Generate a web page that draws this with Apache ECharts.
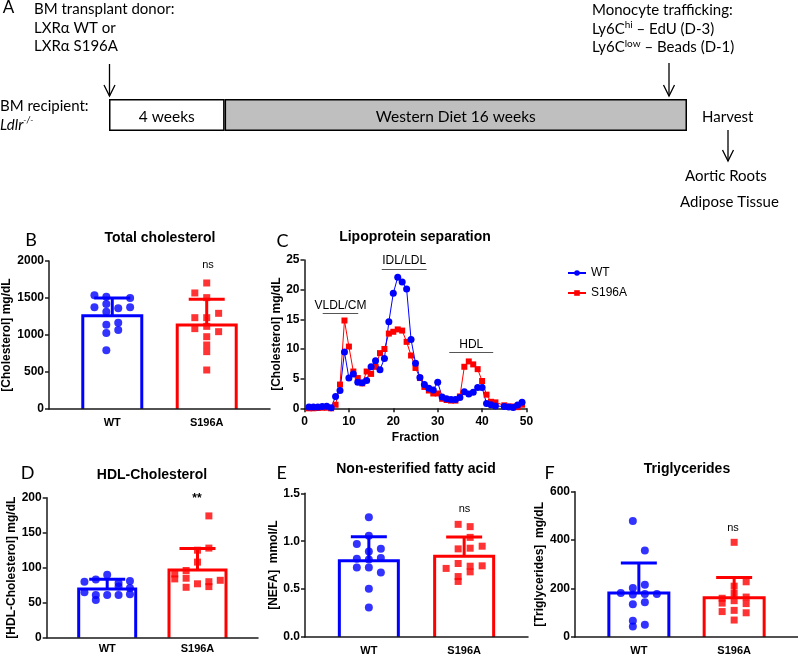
<!DOCTYPE html>
<html><head><meta charset="utf-8">
<script src="https://cdn.jsdelivr.net/npm/echarts@6/dist/echarts.min.js"></script>
<style>html,body{margin:0;padding:0;background:#fff}#c{width:798px;height:656px}</style>
</head><body><div id="c"></div>
<script>
// ---------------- data ----------------
const groups = ['WT', 'S196A'];
const timelinePhases = ['4 weeks', 'Western Diet 16 weeks'];
const timelineWeeks = [4, 16];

// B: total cholesterol (mg/dL)
const tcMean = [1261, 1135];
const tcSD = [239, 347];
const tcWT = [1536, 1518, 1500, 1374, 1419, 1360, 1374, 1315, 1140, 1167, 1068, 1027, 793];
const tcWTcol = [-1.5, -0.5, 1.5, -1.5, -0.5, 0.5, 1.5, -0.5, -0.5, 0.5, 0.5, -0.5, -0.5];
const tcS196A = [1703, 1568, 1505, 1293, 1234, 1234, 1117, 1086, 1045, 977, 865, 775, 527];
const tcS196Acol = [0, -1, 0, 1, -1, 0, 0, -1, 1, 0, 0, 0, 0];

// C: lipoprotein separation
const fractions = [1,2,3,4,5,6,7,8,9,10,11,12,13,14,15,16,17,18,19,20,21,22,23,24,25,26,27,28,29,30,31,32,33,34,35,36,37,38,39,40,41,42,43,45,46,47,48,49];
const lipoWT = [0.2,0.2,0.2,0.3,0.35,0.1,2.0,3.0,9.5,5.1,5.8,4.4,4.3,4.7,7.0,8.0,6.5,8.4,14.6,19.4,22.1,21.3,20.1,11.6,7.6,5.2,4.0,3.4,3.1,4.4,1.9,1.6,1.5,1.5,1.8,2.8,2.4,2.7,3.5,3.5,0.8,0.6,0.4,0.3,0.2,0.15,0.55,1.0];
const lipoS196A = [0,0,0.05,0.1,0.1,0,0.6,4.0,14.8,10.4,6.2,5.1,4.2,6.2,5.8,7.0,9.3,10.0,12.6,12.9,13.3,13.1,11.2,8.9,6.8,5.1,3.6,3.0,2.5,2.5,1.6,1.4,1.3,1.3,2.0,7.0,7.9,7.4,6.6,4.6,2.3,1.1,1.0,0.5,0.3,0.3,0.2,0.6];
const lipoLabels = ['VLDL/CM', 'IDL/LDL', 'HDL'];
const lipoFrom = [4.1, 17.4, 32.6];
const lipoTo = [12.1, 27.5, 42.5];
const lipoLevel = [16.0, 23.5, 9.4];

// D: HDL-cholesterol (mg/dL)
const hdlMean = [69.6, 96.7];
const hdlSD = [13.8, 30.9];
const hdlWT = [80, 83, 90, 78, 81, 65, 61, 61, 61, 62, 54, 73, 71];
const hdlWTcol = [-2, -1, 0, 1, 2, -2, -1, 0, 1, 2, -1, 1, 2];
const hdlS196A = [174, 128, 125, 108, 96, 91, 84, 85, 72, 77, 80, 73, 82];
const hdlS196Acol = [1, 1, 0, 0, -1, -2, -2, -1, -1, 0, 1, 1, 2];

// E: NEFA (mmol/L)
const nefaMean = [0.795, 0.842];
const nefaSD = [0.251, 0.201];
const nefaWT = [1.25, 1.056, 0.971, 0.92, 0.893, 0.818, 0.825, 0.81, 0.726, 0.726, 0.672, 0.504, 0.307];
const nefaWTcol = [0, 0, -1, 1, 0, -1, 1, 0, -1, 0, 1, 0, 0];
const nefaS196A = [1.176, 1.152, 1.04, 0.92, 0.927, 0.948, 0.716, 0.767, 0.739, 0.743, 0.631, 0.58, 0.68];
const nefaS196Acol = [-0.5, 0.5, 0.5, -0.5, 0.5, 1.5, -1.5, -0.5, 0.5, 1.5, -0.5, -0.5, 0.5];

// F: triglycerides (mg/dL)
const tgMean = [182, 162];
const tgSD = [124, 84];
const tgWT = [479, 357, 202, 216, 182, 175, 178, 178, 135, 144, 67, 43, 51];
const tgWTcol = [-0.5, 0.5, -0.5, 0.5, -1.5, -0.5, 0.5, 1.5, -0.5, 0.5, -0.5, -0.5, 0.5];
const tgS196A = [160, 140, 105, 391, 210, 180, 150, 110, 70, 228, 165, 138, 100];
const tgS196Acol = [-1, -1, -1, 0, 0, 0, 0, 0, 0, 1, 1, 1, 1];

const sigLabels = ['ns', 'ns', '**', 'ns', 'ns'];

// ---------------- chart ----------------
const colors = ['#0000ff', '#ff0000'];
const AX = '#1a1a1a';
const FONT = "'Liberation Sans', Arial, sans-serif";
const DFONT = "Lato, 'Noto Sans', sans-serif";
const chart = echarts.init(document.getElementById('c'), null, {renderer: 'canvas'});

const grids = [
  {left: 109, top: 99, width: 578, height: 32},
  {left: 49, top: 261, width: 221, height: 148},
  {left: 304.5, top: 260, width: 222, height: 148.3},
  {left: 46.7, top: 497.7, width: 211.3, height: 140},
  {left: 305, top: 493.3, width: 223, height: 146.7},
  {left: 575, top: 491.7, width: 223, height: 148.3}
];

const xAxes = [], yAxes = [], series = [];
// timeline
const totalWeeks = timelineWeeks.reduce((a, b) => a + b, 0);
xAxes.push({type: 'value', gridIndex: 0, min: 0, max: totalWeeks, show: false});
yAxes.push({type: 'category', gridIndex: 0, data: ['t'], show: false});
timelinePhases.forEach((p, i) => {
  series.push({
    type: 'bar', xAxisIndex: 0, yAxisIndex: 0, stack: 'tl', barWidth: 32, silent: true,
    data: [timelineWeeks[i]],
    itemStyle: {color: i === 0 ? '#ffffff' : '#bfbfbf', borderColor: '#000', borderWidth: 1.5},
    label: {show: true, position: 'inside', formatter: p, color: '#000', fontFamily: DFONT, fontSize: 15.5, offset: [0, 2]}
  });
});

function yAxisCfg(gi, max, interval, name, nameGap, fmt) {
  return {
    type: 'value', gridIndex: gi, min: 0, max: max, interval: interval,
    axisLine: {show: true, onZero: false, lineStyle: {color: AX, width: 1.5}},
    axisTick: {show: true, length: 4, lineStyle: {color: AX, width: 1.5}},
    splitLine: {show: false},
    axisLabel: {color: '#000', fontWeight: 'bold', fontSize: 12, fontFamily: FONT, margin: 5, formatter: fmt || (v => String(v))},
    name: name, nameLocation: 'middle', nameGap: nameGap,
    nameTextStyle: {color: '#000', fontWeight: 'bold', fontSize: 12, fontFamily: FONT}
  };
}
function xCatCfg(gi, margin) {
  return {
    type: 'value', gridIndex: gi, min: -0.67, max: 1.67, z: 5,
    axisLine: {show: true, onZero: false, lineStyle: {color: AX, width: 1.5}},
    axisTick: {show: false}, splitLine: {show: false},
    axisLabel: {customValues: [0, 1], formatter: v => groups[Math.round(v)], color: '#000', fontWeight: 'bold', fontSize: 11, fontFamily: FONT, margin: margin}
  };
}

const step = 0.126;
function barPanel(gi, mean, sd, wt, wtCol, mut, mutCol, hw) {
  series.push({
    type: 'custom', xAxisIndex: gi, yAxisIndex: gi, silent: true,
    data: mean.map((m, i) => [i, m, sd[i]]),
    renderItem: (params, api) => {
      const x = api.value(0), m = api.value(1), s = api.value(2);
      const pb = api.coord([x, 0]), p0 = api.coord([x, m]), p1 = api.coord([x, m + s]);
      const c = colors[params.dataIndex];
      return {type: 'group', children: [
        {type: 'polyline', shape: {points: [[pb[0] - hw, pb[1]], [pb[0] - hw, p0[1]], [pb[0] + hw, p0[1]], [pb[0] + hw, pb[1]]]},
          style: {stroke: c, lineWidth: 3, fill: null, lineJoin: 'miter'}},
        {type: 'line', shape: {x1: p0[0], y1: p0[1], x2: p1[0], y2: p1[1]}, style: {stroke: c, lineWidth: 3}},
        {type: 'line', shape: {x1: p1[0] - 18, y1: p1[1], x2: p1[0] + 18, y2: p1[1]}, style: {stroke: c, lineWidth: 3}}
      ]};
    }
  });
  series.push({
    type: 'scatter', xAxisIndex: gi, yAxisIndex: gi, silent: true, symbol: 'circle', symbolSize: 8,
    itemStyle: {color: colors[0]}, data: wt.map((v, k) => [0 + wtCol[k] * step, v])
  });
  series.push({
    type: 'scatter', xAxisIndex: gi, yAxisIndex: gi, silent: true, symbol: 'rect', symbolSize: 7,
    itemStyle: {color: colors[1]}, data: mut.map((v, k) => [1 + mutCol[k] * step, v])
  });
}

// B (grid 1)
xAxes.push(xCatCfg(1, 8));
yAxes.push(yAxisCfg(1, 2000, 500, '[Cholesterol] mg/dL', 36));
barPanel(1, tcMean, tcSD, tcWT, tcWTcol, tcS196A, tcS196Acol, 29.5);

// C (grid 2)
xAxes.push({
  type: 'value', gridIndex: 2, min: 0, max: 50, interval: 10,
  axisLine: {show: true, onZero: false, lineStyle: {color: AX, width: 1.5}},
  axisTick: {show: true, length: 4, lineStyle: {color: AX, width: 1.5}},
  splitLine: {show: false},
  axisLabel: {color: '#000', fontWeight: 'bold', fontSize: 12, fontFamily: FONT, margin: 7},
  name: 'Fraction', nameLocation: 'middle', nameGap: 23,
  nameTextStyle: {color: '#000', fontWeight: 'bold', fontSize: 12, fontFamily: FONT}
});
yAxes.push(yAxisCfg(2, 25, 5, '[Cholesterol] mg/dL', 22));
series.push({
  name: 'S196A', type: 'line', xAxisIndex: 2, yAxisIndex: 2, silent: true,
  symbol: 'rect', symbolSize: 6, itemStyle: {color: colors[1]}, lineStyle: {color: colors[1], width: 1},
  data: fractions.map((f, i) => [f, lipoS196A[i]]),
  markLine: {
    silent: true, symbol: ['none', 'none'], animation: false,
    lineStyle: {color: '#555', width: 1, type: 'solid'},
    label: {show: true, position: 'insideMiddleTop', distance: 2, color: '#000', fontSize: 12, fontFamily: FONT, formatter: p => p.name},
    data: lipoLabels.map((n, i) => [{name: n, coord: [lipoFrom[i], lipoLevel[i]]}, {coord: [lipoTo[i], lipoLevel[i]]}])
  }
});
series.push({
  name: 'WT', type: 'line', xAxisIndex: 2, yAxisIndex: 2, silent: true,
  symbol: 'circle', symbolSize: 7, itemStyle: {color: colors[0]}, lineStyle: {color: colors[0], width: 1},
  data: fractions.map((f, i) => [f, lipoWT[i]])
});

// D (grid 3)
xAxes.push(xCatCfg(3, 6));
yAxes.push(yAxisCfg(3, 200, 50, '[HDL-Cholesterol] mg/dL', 28));
barPanel(3, hdlMean, hdlSD, hdlWT, hdlWTcol, hdlS196A, hdlS196Acol, 28.5);

// E (grid 4)
xAxes.push(xCatCfg(4, 8));
yAxes.push(yAxisCfg(4, 1.5, 0.5, '[NEFA]  mmol/L', 24, v => v.toFixed(1)));
barPanel(4, nefaMean, nefaSD, nefaWT, nefaWTcol, nefaS196A, nefaS196Acol, 29.5);

// F (grid 5)
xAxes.push(xCatCfg(5, 8));
yAxes.push(yAxisCfg(5, 600, 200, '[Triglycerides]  mg/dL', 24));
barPanel(5, tgMean, tgSD, tgWT, tgWTcol, tgS196A, tgS196Acol, 30);

// ---------------- annotations ----------------
const g = [];
function txt(x, y, text, o) {
  o = o || {};
  g.push({type: 'text', x: x, y: y, silent: true, z: 10, style: Object.assign({
    text: text, fill: '#000', font: (o.weight || 'normal') + ' ' + (o.size || 15) + 'px ' + (o.family || DFONT),
    textAlign: o.align || 'left', textVerticalAlign: 'middle'
  }, o.rich ? {rich: o.rich} : {})});
}
function arrow(x, y1, y2) {
  g.push({type: 'line', silent: true, shape: {x1: x, y1: y1, x2: x, y2: y2}, style: {stroke: '#000', lineWidth: 1.3}});
  g.push({type: 'polyline', silent: true, shape: {points: [[x - 5.5, y2 - 11], [x, y2], [x + 5.5, y2 - 11]]}, style: {stroke: '#000', lineWidth: 1.3, fill: null}});
}
// panel A
txt(8.5, 8, 'A', {size: 17, align: 'center'});
txt(34, 9.5, 'BM transplant donor:');
txt(34, 28, 'LXRα WT or');
txt(34, 46.5, 'LXRα S196A');
arrow(109.5, 64, 96);
txt(0, 106.5, 'BM recipient:');
txt(0, 125, '{it|Ldlr}{sup|-/-}', {rich: {it: {fontStyle: 'italic', fontSize: 15, fontFamily: DFONT, lineHeight: 18}, sup: {fontStyle: 'italic', fontSize: 9, fontFamily: DFONT, verticalAlign: 'top', lineHeight: 18}}});
txt(592, 10.5, 'Monocyte trafficking:');
const supRich = {n: {fontSize: 15, fontFamily: DFONT, lineHeight: 18}, sup: {fontSize: 10, fontFamily: DFONT, verticalAlign: 'top', lineHeight: 18}};
txt(592, 29, '{n|Ly6C}{sup|hi}{n| – EdU (D-3)}', {rich: supRich});
txt(592, 47.5, '{n|Ly6C}{sup|low}{n| – Beads (D-1)}', {rich: supRich});
arrow(669, 63, 96);
txt(702, 117, 'Harvest');
arrow(728, 130, 161);
txt(685, 176.5, 'Aortic Roots');
txt(680, 202, 'Adipose Tissue');

// panel letters
txt(31, 240, 'B', {size: 18, align: 'center'});
txt(282.5, 241.5, 'C', {size: 18, align: 'center'});
txt(27.5, 473.5, 'D', {size: 18, align: 'center'});
txt(281.7, 473, 'E', {size: 18, align: 'center'});
txt(549.5, 473, 'F', {size: 18, align: 'center'});
// titles
txt(160, 238, 'Total cholesterol', {size: 14, weight: 'bold', family: FONT, align: 'center'});
txt(415, 237, 'Lipoprotein separation', {size: 14, weight: 'bold', family: FONT, align: 'center'});
txt(152, 475, 'HDL-Cholesterol', {size: 14, weight: 'bold', family: FONT, align: 'center'});
txt(416, 469, 'Non-esterified fatty acid', {size: 14, weight: 'bold', family: FONT, align: 'center'});
txt(687, 469, 'Triglycerides', {size: 14, weight: 'bold', family: FONT, align: 'center'});
// significance
txt(208, 265, sigLabels[0], {size: 11, family: FONT, align: 'center'});
txt(197, 499, sigLabels[2], {size: 12, weight: 'bold', family: FONT, align: 'center'});
txt(464.5, 509, sigLabels[3], {size: 11, family: FONT, align: 'center'});
txt(733, 527.5, sigLabels[4], {size: 11, family: FONT, align: 'center'});

chart.setOption({
  animation: false,
  textStyle: {fontFamily: FONT},
  grid: grids,
  xAxis: xAxes,
  yAxis: yAxes,
  legend: {
    data: ['WT', 'S196A'], orient: 'vertical', left: 562, top: 262, itemWidth: 18, itemHeight: 7, itemGap: 8,
    textStyle: {color: '#000', fontSize: 12, fontFamily: FONT}, selectedMode: false
  },
  series: series,
  graphic: g
});
</script></body></html>
